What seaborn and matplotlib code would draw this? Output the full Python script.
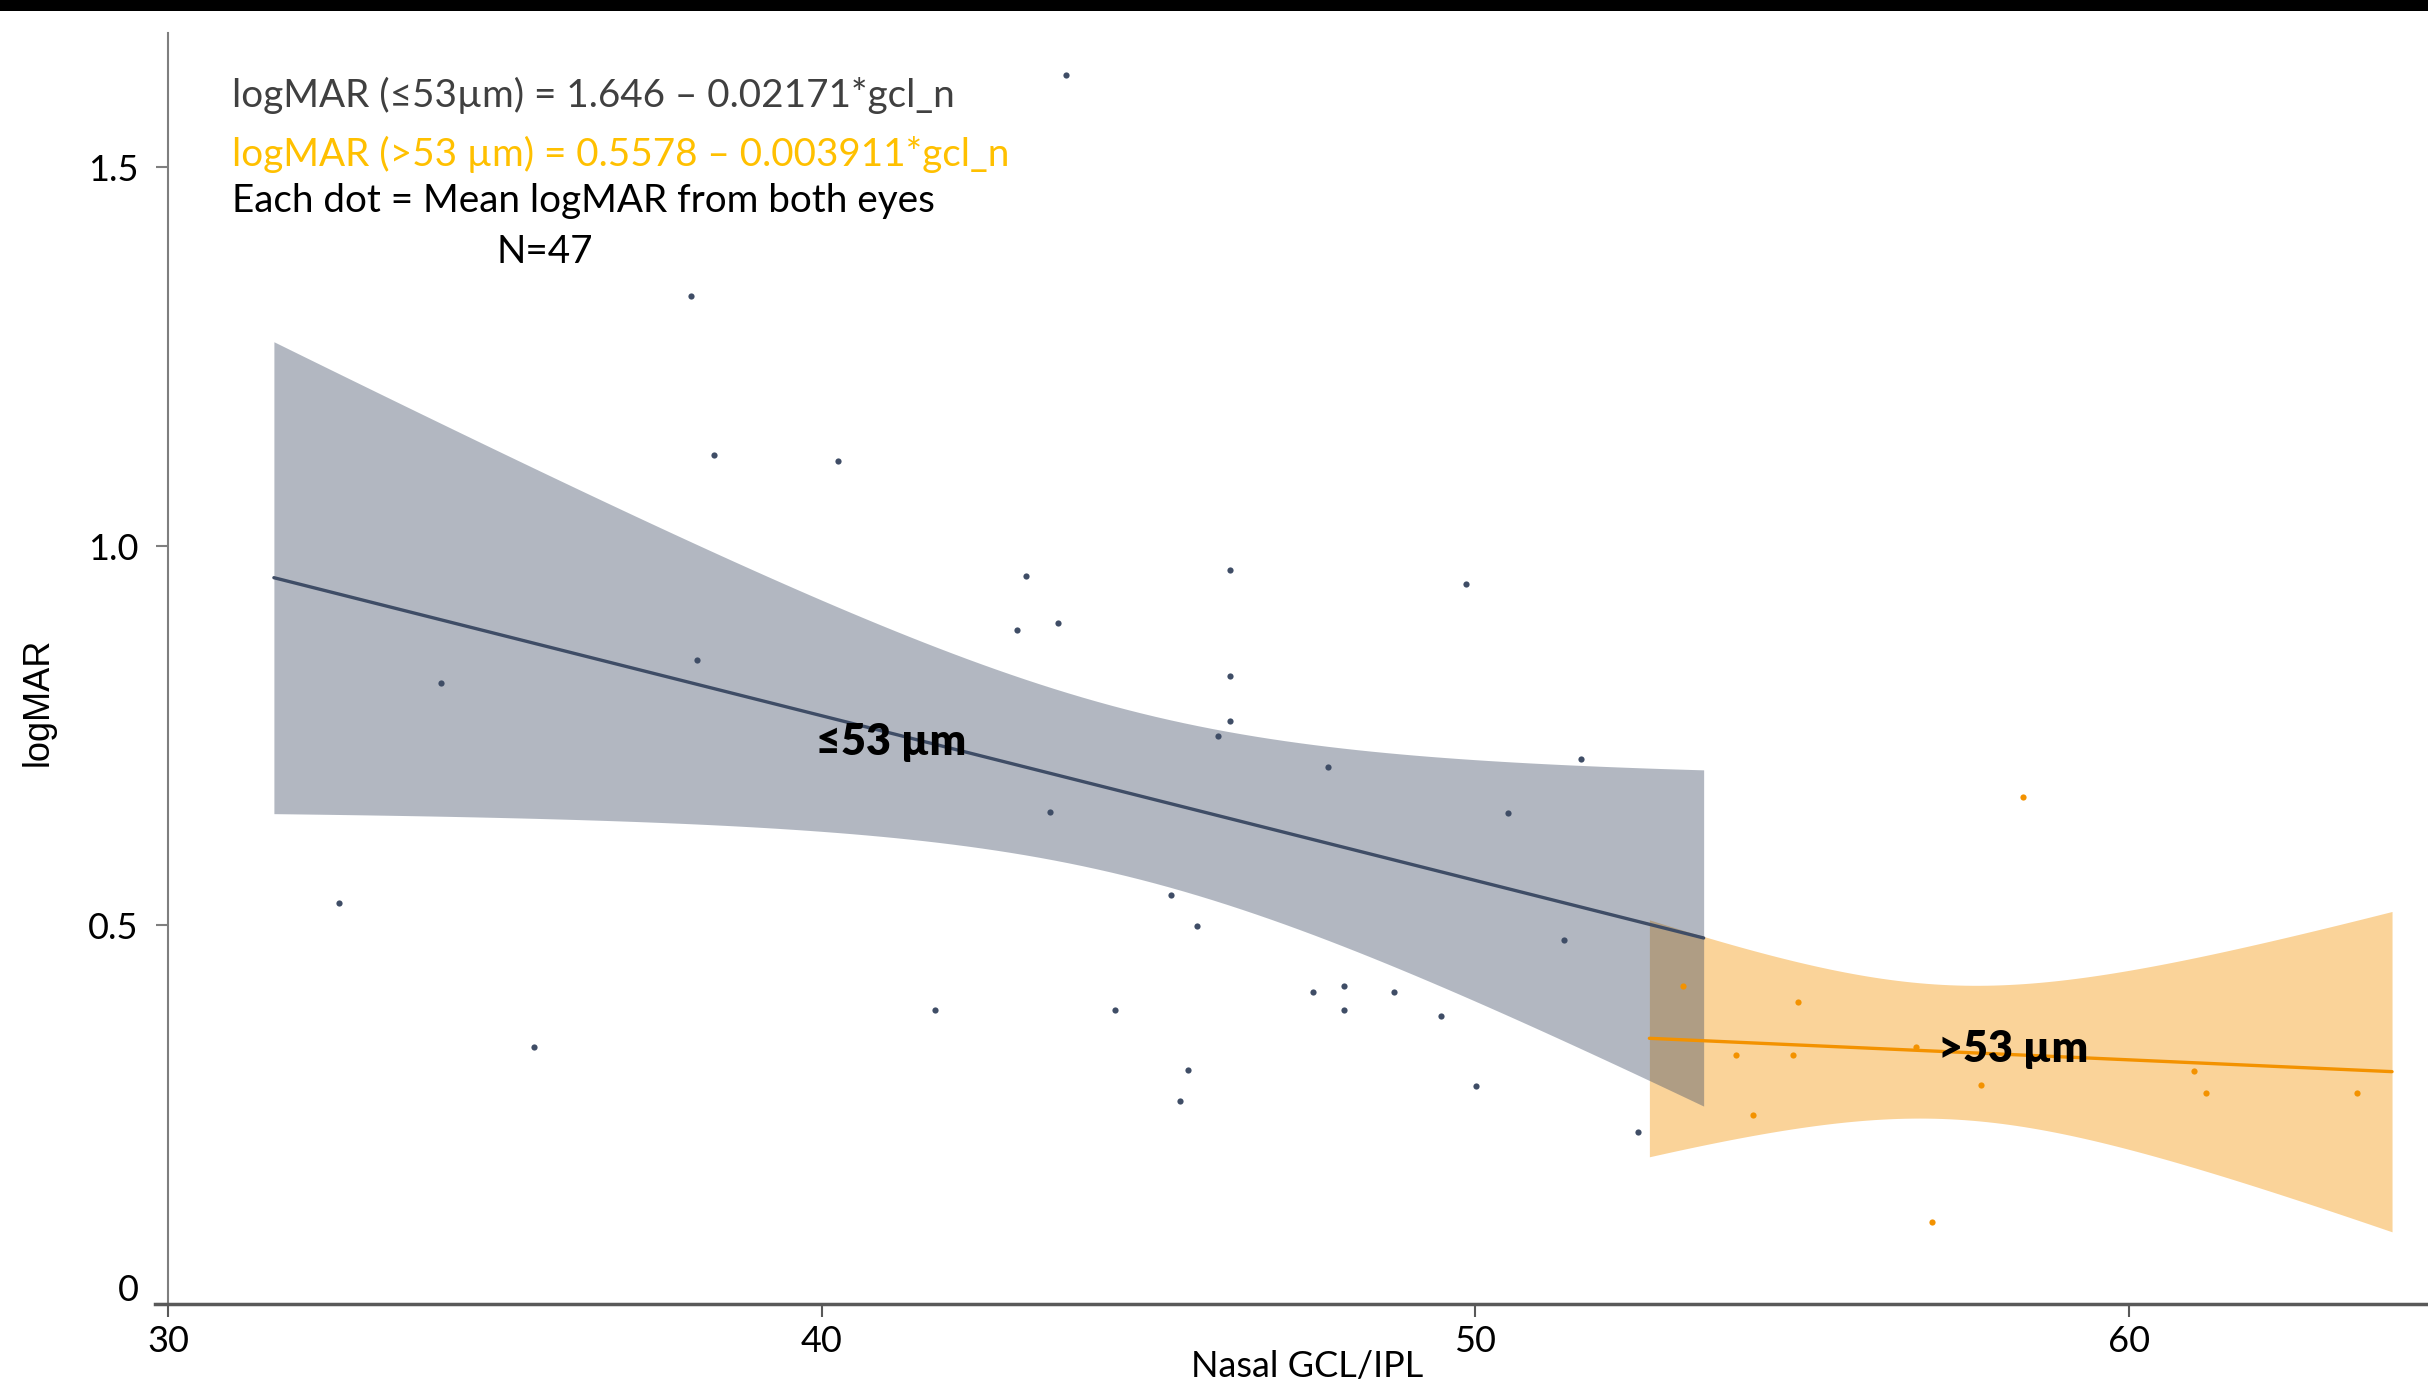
import numpy as np
import pandas as pd
import matplotlib.pyplot as plt
import seaborn as sns
from matplotlib.patches import Rectangle
from matplotlib.transforms import ScaledTranslation

# Mean logMAR (both eyes) vs nasal GCL/IPL thickness
gcl_le53 = [32.62, 34.18, 35.60, 38.00, 38.09, 38.35, 40.25, 41.74, 42.99, 43.13,
            43.49, 43.62, 43.73, 44.49, 45.35, 45.48, 45.60, 45.74, 46.06, 46.25,
            46.25, 46.25, 47.52, 47.75, 47.99, 47.99, 48.75, 49.48, 49.86, 50.01,
            50.50, 51.36, 51.62, 52.49]
logmar_le53 = [0.529, 0.819, 0.339, 1.330, 0.850, 1.120, 1.112, 0.388, 0.889, 0.960,
               0.649, 0.899, 1.622, 0.388, 0.539, 0.268, 0.309, 0.499, 0.749, 0.969,
               0.829, 0.769, 0.411, 0.708, 0.419, 0.388, 0.411, 0.380, 0.950, 0.288,
               0.648, 0.480, 0.719, 0.227]

gcl_gt53 = [53.17, 53.99, 54.24, 54.86, 54.93, 56.74, 56.99, 57.74, 58.37, 60.99, 61.18, 63.49]
logmar_gt53 = [0.419, 0.328, 0.249, 0.328, 0.399, 0.339, 0.108, 0.289, 0.669, 0.308, 0.279, 0.279]

# x span of each fitted line / band in the original
fit_range_le53 = (31.62, 53.49)
fit_range_gt53 = (52.66, 64.02)

# two-sided 95% t quantiles for n-2 degrees of freedom
t_le53 = 2.037   # df = 32
t_gt53 = 2.228   # df = 10

x_ticks = [30, 40, 50, 60]
y_ticks = [0, 0.5, 1.0, 1.5]
y_tick_labels = ['0', '0.5', '1.0', '1.5']

dark = '#3F4D66'
orange = '#F39200'

sns.set_style('ticks')
plt.rcParams['font.family'] = ['Lato', 'DejaVu Sans']

fig = plt.figure(figsize=(24.28, 13.86), dpi=100)
ax = fig.add_axes([0.0638, 0.0592, 0.9362, 0.917])


def draw_group(x, y, xr, color, t_crit):
    ax.set_xlim(*xr)
    sns.regplot(x=x, y=y, ax=ax, ci=None, truncate=False, color=color,
                scatter_kws=dict(s=20, alpha=1, linewidths=0, zorder=4),
                line_kws=dict(lw=2.4, zorder=3))
    # analytic 95% band (regplot would bootstrap it)
    x = np.asarray(x)
    y = np.asarray(y)
    slope, icpt = np.polyfit(x, y, 1)
    grid = np.linspace(xr[0], xr[1], 100)
    resid = y - (icpt + slope * x)
    s = np.sqrt((resid ** 2).sum() / (len(x) - 2))
    se = s * np.sqrt(1 / len(x) + (grid - x.mean()) ** 2 / ((x - x.mean()) ** 2).sum())
    fit = icpt + slope * grid
    ax.fill_between(grid, fit - t_crit * se, fit + t_crit * se,
                    color=color, alpha=0.4, lw=0, zorder=1)


draw_group(gcl_gt53, logmar_gt53, fit_range_gt53, orange, t_gt53)
draw_group(gcl_le53, logmar_le53, fit_range_le53, dark, t_le53)

ax.set_xlim(29.8, 64.57)
ax.set_ylim(0, 1.677)

sns.despine(ax=ax)
ax.spines['left'].set_position(('data', 30))
ax.spines['left'].set_color('#7F7F7F')
ax.spines['left'].set_linewidth(1.5)
ax.spines['bottom'].set_color('#595959')
ax.spines['bottom'].set_linewidth(2.5)

ax.set_xticks(x_ticks)
ax.set_yticks(y_ticks)
ax.set_yticklabels(y_tick_labels)
ax.tick_params(axis='y', length=9, width=1.5, color='#7F7F7F', labelsize=26,
               pad=12, labelcolor='black')
ax.tick_params(axis='x', length=9, width=1.5, color='#595959', labelsize=26,
               pad=6, labelcolor='black')
zero_lab = ax.get_yticklabels()[0]
zero_lab.set_transform(zero_lab.get_transform() + ScaledTranslation(0, 12 / 72, fig.dpi_scale_trans))

ax.set_xlabel('Nasal GCL/IPL', fontsize=26, color='black')
ax.xaxis.set_label_coords(0.507, -0.036)
ax.set_ylabel('logMAR', fontsize=26, color='black', family=['Liberation Sans', 'DejaVu Sans'])
ax.yaxis.set_label_coords(-0.0436, 0.4736)

# group labels on the fits
ax.text(39.91, 0.724, '≤53 µm', fontsize=31, fontweight='heavy', color='black')
ax.text(57.08, 0.319, '>53 µm', fontsize=31, fontweight='heavy', color='black')

# equations and notes
fig.text(0.0956, 0.9228, 'logMAR (≤53µm) = 1.646 – 0.02171*gcl_n', fontsize=27.8, color='#404040')
fig.text(0.0956, 0.8802, 'logMAR (>53 µm) = 0.5578 – 0.003911*gcl_n', fontsize=27.8, color='#FFC000')
fig.text(0.0956, 0.8470, 'Each dot = Mean logMAR from both eyes', fontsize=27.8, color='black')
fig.text(0.2245, 0.8102, 'N=47', fontsize=27.8, color='black', ha='center')

# black strip along the top edge
fig.add_artist(Rectangle((0, 1 - 11 / 1386), 1, 11 / 1386, transform=fig.transFigure,
                         color='black', lw=0))

fig.savefig('out.png', dpi=100)
